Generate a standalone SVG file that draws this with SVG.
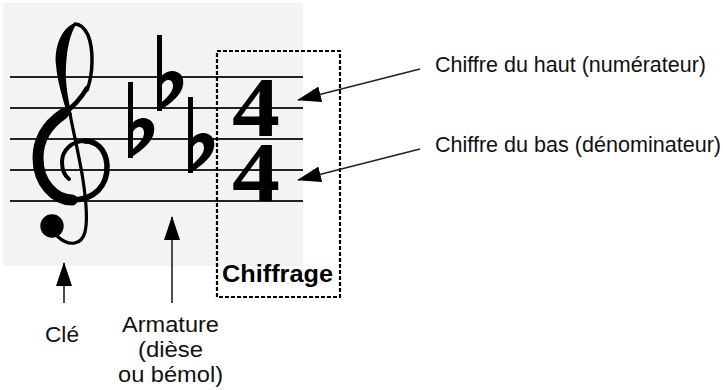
<svg xmlns="http://www.w3.org/2000/svg" width="723" height="390" viewBox="0 0 723 390">
<style>
.lbl{font-family:"Liberation Sans",Arial,sans-serif;font-size:21.5px;fill:#111}
.bold{font-family:"Liberation Sans",Arial,sans-serif;font-size:23px;font-weight:bold;fill:#000}
.staff{stroke:#222;stroke-width:2}
.ink{fill:#000}
.clefs{fill:none;stroke:#000;stroke-linecap:round;stroke-linejoin:round}
.digit{font-family:"Liberation Serif","Times New Roman",serif;font-weight:bold;font-size:84px;fill:#000}
.conn{stroke:#222;stroke-width:1.6;fill:none;marker-end:url(#arr)}
</style>
<defs>
<marker id="arr" viewBox="0 0 24 16" markerWidth="24" markerHeight="16" refX="23" refY="8" orient="auto" markerUnits="userSpaceOnUse">
<path d="M0,0 L24,8 L0,16 Z" fill="#000"/>
</marker>
<g id="flat">
<rect x="0" y="0" width="5" height="76" fill="#000"/>
<path fill="#000" fill-rule="evenodd" d="M2,44 C8,36 15,35 20,37 C25,39 27,44 26,50 C25,59 16,67 2,76 Z M5,67 C11,62 16,56 16,51 C16,47 14,45 11.5,45 C9,45 6,47 5,50 Z"/>
</g>
</defs>
<g id="staff">
<rect x="3" y="3" width="300" height="263" fill="#f3f3f3"/>
<line class="staff" x1="10" y1="77" x2="303" y2="77"/>
<line class="staff" x1="10" y1="108" x2="303" y2="108"/>
<line class="staff" x1="10" y1="139" x2="303" y2="139"/>
<line class="staff" x1="10" y1="170" x2="303" y2="170"/>
<line class="staff" x1="10" y1="201" x2="303" y2="201"/>
</g>
<g id="cle">
<path class="ink" d="M75,23 C61,28 54,48 56,65 C57,80 63,100 68,116 L72,115 C68,100 65,82 66,66 C67,48 70,34 76,25 Z"/>
<path class="clefs" stroke-width="3.5" d="M87,90 C93,75 94,50 88,35 C84,27 79,24 75,24"/>
<path class="clefs" stroke-width="3.2" d="M70,114 C74,135 80,160 83,180 C86,200 88,220 85,232 C82,244 70,248 57,236"/>
<circle cx="52" cy="226" r="11.7" fill="#000"/>
<path class="clefs" stroke-width="4.5" d="M87,88 C80,100 72,108 63,114"/>
<path class="clefs" stroke-width="11" d="M63,114 C47,125 38,140 38,158 C38,183 55,200 72,200"/>
<path class="clefs" stroke-width="5.5" d="M72,200 C95,200 108,185 107,165 C106,150 97,141 85,141"/>
<path class="clefs" stroke-width="4" d="M85,141 C72,141 62,150 62,162 C62,170 65,176 69,179"/>
</g>
<g id="armature">
<use href="#flat" transform="translate(128,82)"/>
<use href="#flat" transform="translate(157,35)"/>
<use href="#flat" transform="translate(188,97)"/>
</g>
<g id="chiffrage">
<rect x="217" y="51" width="123" height="246" fill="none" stroke="#000" stroke-width="2.2" stroke-dasharray="4,2"/>
<text class="digit"><tspan x="232" y="136" textLength="48" lengthAdjust="spacingAndGlyphs">4</tspan><tspan x="232" y="201" textLength="48" lengthAdjust="spacingAndGlyphs">4</tspan></text>
<text class="bold" x="222" y="282" textLength="111" lengthAdjust="spacingAndGlyphs">Chiffrage</text>
</g>
<g id="label-haut">
<text class="lbl" x="435" y="72" textLength="271" lengthAdjust="spacingAndGlyphs">Chiffre du haut (numérateur)</text>
</g>
<g id="label-bas">
<text class="lbl" x="435" y="152" textLength="286" lengthAdjust="spacingAndGlyphs">Chiffre du bas (dénominateur)</text>
</g>
<g id="label-cle">
<text class="lbl" x="45" y="342" textLength="34" lengthAdjust="spacingAndGlyphs">Clé</text>
</g>
<g id="label-armature">
<text class="lbl" x="170.5" y="332" text-anchor="middle" textLength="97" lengthAdjust="spacingAndGlyphs">Armature</text>
<text class="lbl" x="170.5" y="357" text-anchor="middle" textLength="65" lengthAdjust="spacingAndGlyphs">(dièse</text>
<text class="lbl" x="170.5" y="382" text-anchor="middle" textLength="105" lengthAdjust="spacingAndGlyphs">ou bémol)</text>
</g>
<g id="connectors">
<line class="conn" x1="420" y1="69" x2="298" y2="100"/>
<line class="conn" x1="420" y1="149" x2="298" y2="180"/>
<line class="conn" x1="64" y1="303" x2="64" y2="263"/>
<line class="conn" x1="172" y1="303" x2="172" y2="217"/>
</g>
</svg>
